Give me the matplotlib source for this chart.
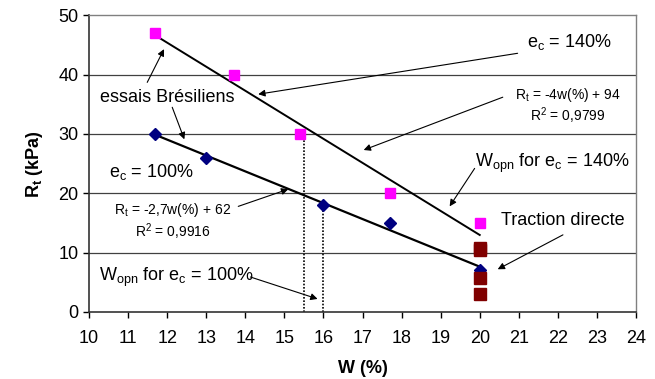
import numpy as np
import matplotlib
matplotlib.use("Agg")
import matplotlib.pyplot as plt

plt.rcParams['font.family'] = ['Liberation Sans', 'DejaVu Sans']

# Data
w_140 = [11.7, 13.7, 15.4, 17.7, 20.0]
rt_140 = [47, 40, 30, 20, 15]
w_100 = [11.7, 13.0, 16.0, 17.7, 20.0]
rt_100 = [30, 26, 18, 15, 7]
w_direct = [20.0, 20.0, 20.0, 20.0]
rt_direct = [10.8, 10.5, 5.7, 3.0]
w_opn = [15.5, 16.0]
rt_opn = [30, 18]
xticks = list(range(10, 25))
yticks = [0, 10, 20, 30, 40, 50]

fig = plt.figure(figsize=(6.55, 3.79), dpi=100)
ax = fig.add_axes([0.1359, 0.1768, 0.971 - 0.1359, 0.9596 - 0.1768])
ax.set_xlim(10, 24)
ax.set_ylim(0, 50)

for y in yticks[1:-1]:
    ax.axhline(y, color='#404040', lw=0.9, zorder=1)

# trend lines
p140 = np.polyfit(w_140, rt_140, 1)
p100 = np.polyfit(w_100, rt_100, 1)
xs140 = np.array([min(w_140), max(w_140)])
xs100 = np.array([min(w_100), max(w_100)])
ax.plot(xs140, np.polyval(p140, xs140), color='black', lw=1.4, zorder=3)
ax.plot(xs100, np.polyval(p100, xs100), color='black', lw=1.6, zorder=3)

# dotted verticals
for xv, yv in zip(w_opn, rt_opn):
    ax.plot([xv, xv], [0, yv], color='black', lw=1.2, ls=(0, (1, 1)), zorder=2)

ax.plot(w_140, rt_140, ls='none', marker='s', ms=7.8, color='#FF00FF', mec='#FF00FF', zorder=4)
ax.plot(w_100, rt_100, ls='none', marker='D', ms=6, color='#000080', mec='#000080', zorder=4)
ax.plot(w_direct, rt_direct, ls='none', marker='s', ms=8, color='#800000', mec='#800000', zorder=5)

ax.set_xticks(xticks)
ax.set_yticks(yticks)
ax.tick_params(axis='both', labelsize=13, direction='out', length=4, width=1, color='black')
ax.tick_params(axis='x', pad=9)
for s in ['left', 'bottom']:
    ax.spines[s].set_color('#333333')
    ax.spines[s].set_linewidth(1.2)
for s in ['top', 'right']:
    ax.spines[s].set_color('#808080')
    ax.spines[s].set_linewidth(1.0)

ax.set_xlabel('W (%)', fontsize=13, fontweight='bold', labelpad=9)
ax.set_ylabel(r'R$_\mathregular{t}$ (kPa)', fontsize=13, fontweight='bold', labelpad=10)

ap = dict(arrowstyle='-|>', color='black', lw=0.8, mutation_scale=10, shrinkA=0, shrinkB=0)

ax.text(22.3, 45.5, r'e$_\mathregular{c}$ = 140%', fontsize=13, ha='center', va='center')
ax.annotate('', xy=(14.33, 36.7), xytext=(20.97, 43.6), arrowprops=ap)

ax.text(12.0, 36.2, 'essais Brésiliens', fontsize=13, ha='center', va='center')
ax.annotate('', xy=(11.92, 44.3), xytext=(11.49, 38.7), arrowprops=ap)
ax.annotate('', xy=(12.44, 29.1), xytext=(12.13, 34.5), arrowprops=ap)

ax.text(11.6, 23.6, r'e$_\mathregular{c}$ = 100%', fontsize=13, ha='center', va='center')

ax.text(12.15, 17.2, r'R$_\mathregular{t}$ = -2,7w(%) + 62', fontsize=10, ha='center', va='center')
ax.text(12.15, 13.5, r'R$^\mathregular{2}$ = 0,9916', fontsize=10, ha='center', va='center')
ax.annotate('', xy=(15.1, 20.7), xytext=(13.82, 17.8), arrowprops=ap)

ax.text(22.26, 36.6, r'R$_\mathregular{t}$ = -4w(%) + 94', fontsize=10, ha='center', va='center')
ax.text(22.26, 33.0, r'R$^\mathregular{2}$ = 0,9799', fontsize=10, ha='center', va='center')
ax.annotate('', xy=(17.03, 27.3), xytext=(20.59, 36.2), arrowprops=ap)

ax.text(21.87, 25.1, r'W$_\mathregular{opn}$ for e$_\mathregular{c}$ = 140%', fontsize=13, ha='center', va='center')
ax.annotate('', xy=(19.23, 17.8), xytext=(19.87, 24.2), arrowprops=ap)

ax.text(22.13, 15.5, 'Traction directe', fontsize=13, ha='center', va='center')
ax.annotate('', xy=(20.46, 7.2), xytext=(22.13, 13.0), arrowprops=ap)

ax.text(12.23, 5.9, r'W$_\mathregular{opn}$ for e$_\mathregular{c}$ = 100%', fontsize=13, ha='center', va='center')
ax.annotate('', xy=(15.85, 2.2), xytext=(14.13, 5.9), arrowprops=ap)

fig.savefig('out.png', dpi=100)
